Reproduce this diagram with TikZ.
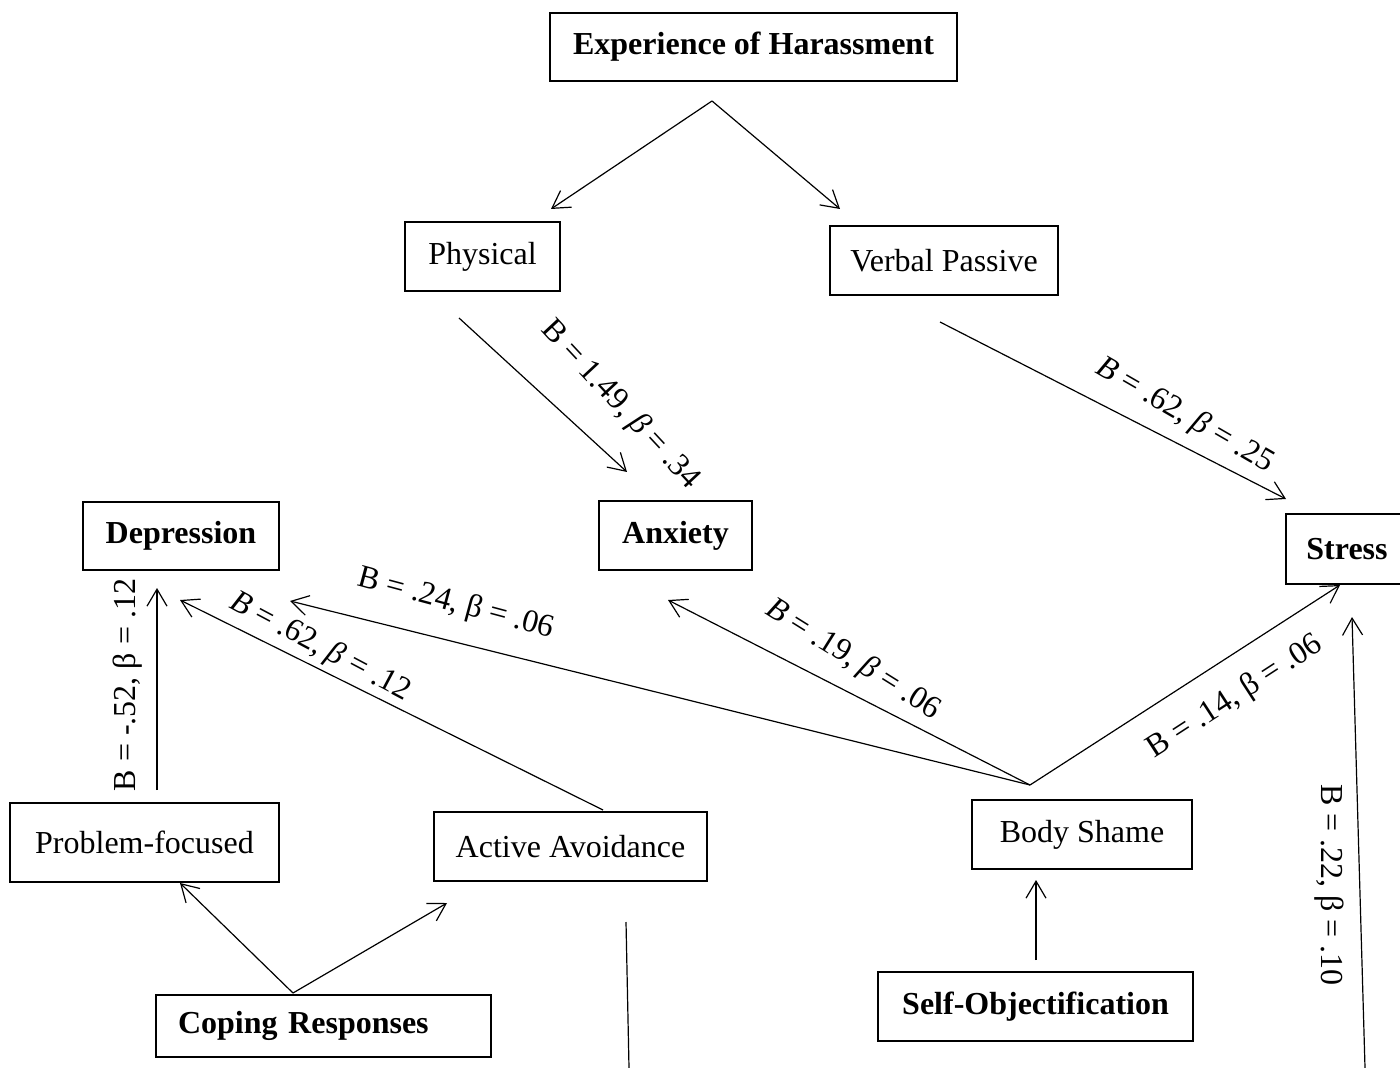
\documentclass[tikz,border=0pt]{standalone}
\usepackage{fontspec}
\setmainfont{Liberation Serif}
\usetikzlibrary{arrows.meta,calc}
\begin{document}
\begin{tikzpicture}[x=0.5pt,y=-0.5pt,
  box/.style={draw,line width=0.65pt,inner sep=0pt,font=\fontsize{16}{19}\selectfont},
  bbox/.style={box,font=\fontsize{16}{19}\selectfont\bfseries},
  arr/.style={line width=0.6pt,-{Straight Barb[length=8.5pt,width=10pt,line width=0.6pt]}},
  ln/.style={line width=0.6pt},
  lab/.style={font=\fontsize{16}{19}\selectfont,inner sep=0pt}]
\useasboundingbox (0,0) rectangle (1400,1068);
% boxes
\node[bbox,minimum width=203.5pt,minimum height=34pt] (exp) at (753.5,47) {Experience of Harassment};
\node[box,minimum width=77.5pt,minimum height=34.5pt] (phys) at (482.5,256.5) {Physical};
\node[box,minimum width=114pt,minimum height=34.5pt] (verb) at (944,260.5) {Verbal Passive};
\node[bbox,minimum width=98pt,minimum height=34pt] (dep) at (181,536) {Depression};
\node[bbox,minimum width=76.5pt,minimum height=34.5pt] (anx) at (675.5,535.5) {Anxiety};
\node[bbox,minimum width=61pt,minimum height=35pt] (str) at (1347,549) {Stress};
\node[box,minimum width=134.5pt,minimum height=39.5pt] (prob) at (144.5,842.5) {Problem-focused};
\node[box,minimum width=136.5pt,minimum height=34.5pt] (act) at (570.5,846.5) {Active Avoidance};
\node[box,minimum width=110pt,minimum height=34.5pt] (body) at (1082,834.5) {Body Shame};
\node[bbox,minimum width=157.5pt,minimum height=34.5pt] (self) at (1035.5,1006.5) {Self-Objectification};
\node[bbox,minimum height=31pt,text width=145.5pt,inner xsep=11pt,align=left] (cope) at (323.5,1026) {Coping Responses};
% connector end points
\coordinate (expS) at (712,101);
\coordinate (physIn) at (551,209);
\coordinate (verbIn) at (840,209);
\coordinate (physOut) at (459,318);
\coordinate (anxIn1) at (627,472);
\coordinate (verbOut) at (940,322);
\coordinate (strIn1) at (1286,499);
\coordinate (bodyTop) at (1030,785);
\coordinate (depIn1) at (290,601);
\coordinate (anxIn2) at (668,600);
\coordinate (strIn2) at (1340,585);
\coordinate (actTop) at (603,810);
\coordinate (depIn2) at (180,600);
\coordinate (probTop) at (157,790);
\coordinate (depIn3) at (157,588);
\coordinate (copeTop) at (293,993);
\coordinate (probIn) at (180,883);
\coordinate (actIn) at (447,903);
\coordinate (selfTop) at (1036,960);
\coordinate (bodyIn) at (1036,880);
\coordinate (botR) at (1365,1068);
\coordinate (strIn3) at (1352,617);
\coordinate (lineA) at (626,922);
\coordinate (lineB) at (629,1068);
% connectors
\draw[arr] (expS) -- (physIn);
\draw[arr] (expS) -- (verbIn);
\draw[arr] (physOut) -- (anxIn1);
\draw[arr] (verbOut) -- (strIn1);
\draw[arr] (bodyTop) -- (depIn1);
\draw[arr] (bodyTop) -- (anxIn2);
\draw[arr] (bodyTop) -- (strIn2);
\draw[arr] (actTop) -- (depIn2);
\draw[arr] (probTop) -- (depIn3);
\draw[arr] (copeTop) -- (probIn);
\draw[arr] (copeTop) -- (actIn);
\draw[arr] (selfTop) -- (bodyIn);
\draw[arr] (botR) -- (strIn3);
\draw[ln] (lineA) -- (lineB);
% labels
\node[lab,rotate=-47] (l1) at (620,405) {B = 1.49, \textit{β} = .34};
\node[lab,rotate=-30] (l2) at (1185,416) {\textit{B} = .62, \textit{β} = .25};
\node[lab,rotate=-15] (l3) at (456,604) {B = .24, β = .06};
\node[lab,rotate=-28] (l4) at (320,647) {\textit{B} = .62, \textit{β} = .12};
\node[lab,rotate=-32] (l5) at (853,660) {\textit{B} = .19, \textit{β} = .06};
\node[lab,rotate=33] (l6) at (1235,697) {B = .14, β = .06};
\node[lab,rotate=90] (l7) at (128,685) {B = -.52, β = .12};
\node[lab,rotate=-90] (l8) at (1329,885) {B = .22, β = .10};
\end{tikzpicture}
\end{document}
